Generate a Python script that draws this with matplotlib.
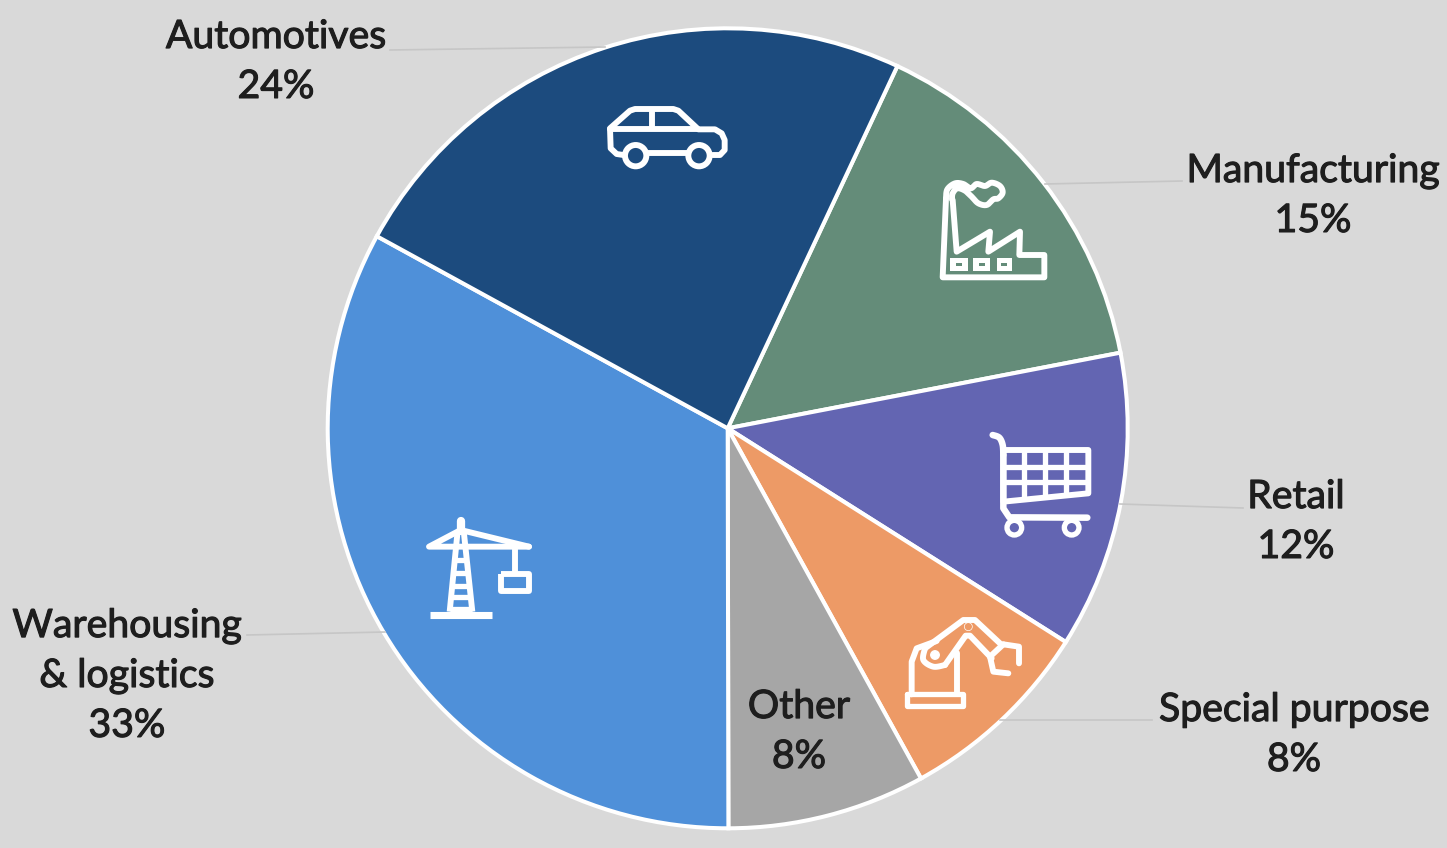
import numpy as np
import matplotlib
matplotlib.use("Agg")
import matplotlib.pyplot as plt
import matplotlib.patheffects as pe
from matplotlib.patches import Circle, Rectangle

categories = ["Manufacturing", "Retail", "Special purpose", "Other", "Warehousing\n& logistics", "Automotives"]
shares = [15, 12, 8, 8, 33, 24]
colors = ["#648c79", "#6365b2", "#ed9a66", "#a6a6a6", "#4f90d9", "#1c4b7e"]
label_pos = [(1313, 196), (1296, 522), (1294, 735), (799, 732), (127, 676), (276, 62)]
leaders = [((1045, 184), (1182, 181)), ((1120, 504), (1243, 508)), ((1000, 720), (1152, 720)),
           None, ((247, 635), (385, 632)), ((390, 50), (605, 47))]

W, H = 1447, 848
BG = "#d9d9d9"
fig = plt.figure(figsize=(W / 100, H / 100), dpi=100, facecolor=BG)
ax = fig.add_axes([0, 0, 1, 1])
ax.set_facecolor(BG)

def P(x, y):
    return (x, H - y)

ax.pie(shares, colors=colors, startangle=64.9, counterclock=False, center=P(727.7, 428.3), radius=400,
       wedgeprops=dict(edgecolor="white", linewidth=2.9, joinstyle="miter"))
ax.set_xlim(0, W)
ax.set_ylim(0, H)
ax.set_aspect("auto")
ax.axis("off")

for cat, share, pos, ld in zip(categories, shares, label_pos, leaders):
    ax.text(*P(*pos), f"{cat}\n{share}%", ha="center", va="center", fontsize=28.2, family="Lato",
            color="#1e1e1e", linespacing=1.48, zorder=6,
            path_effects=[pe.withStroke(linewidth=0.8, foreground="#1e1e1e")])
    if ld:
        ax.plot(*zip(P(*ld[0]), P(*ld[1])), color="#c6c6c6", lw=1.2, zorder=5)

# ---- icons (decoration only), coordinates from zoom crops
def Z(o, pts):
    return [P(o[0] + a / 3, o[1] + b / 3) for a, b in pts]

def smooth(pts, n=12):
    p = np.array([pts[0]] + list(pts) + [pts[-1]], float)
    out = []
    for i in range(1, len(p) - 2):
        for t in np.linspace(0, 1, n, endpoint=False):
            a, b, c, d = p[i - 1], p[i], p[i + 1], p[i + 2]
            out.append(0.5 * (2 * b + (c - a) * t + (2 * a - 5 * b + 4 * c - d) * t ** 2 + (3 * b - a - 3 * c + d) * t ** 3))
    out.append(p[-2])
    return [tuple(q) for q in out]

K = 0.85

def line(o, pts, lw=5, closed=False, cap="round", curved=False):
    pts = Z(o, pts)
    if curved:
        pts = smooth(pts)
    if closed:
        pts = pts + [pts[0]]
    x, y = zip(*pts)
    ax.plot(x, y, color="white", lw=lw * K, solid_capstyle=cap, solid_joinstyle="round", zorder=7)

def circ(o, c, r, lw=5, fill=False):
    xy = Z(o, [c])[0]
    ax.add_patch(Circle(xy, r / 3, fc="white" if fill else "none", ec="white", lw=lw * K, zorder=7))

def solid_rect(o, x0, y0, x1, y1, color="white"):
    a = Z(o, [(x0, y1)])[0]
    ax.add_patch(Rectangle(a, (x1 - x0) / 3, (y1 - y0) / 3, fc=color, ec="none", zorder=7))

# car
o = (590, 90)
line(o, [(100, 195), (80, 192), (62, 175), (60, 115), (120, 62), (135, 57), (250, 57), (265, 62), (325, 118), (375, 118), (395, 130), (404, 150), (404, 180), (390, 195), (368, 195)], lw=5)
line(o, [(175, 190), (293, 190)])
line(o, [(60, 118), (325, 118)])
line(o, [(187, 60), (187, 115)])
circ(o, (137, 197), 32)
circ(o, (327, 197), 32)

# factory
o = (930, 170)
line(o, [(48, 85), (38, 322), (343, 322), (343, 255), (268, 255), (270, 185), (175, 245), (180, 185), (80, 245), (68, 90)], lw=5)
line(o, [(48, 85), (52, 58), (75, 40), (100, 42), (122, 55), (140, 42), (165, 48), (185, 38), (210, 48), (218, 68), (205, 85), (190, 88), (170, 105), (145, 100), (125, 80), (105, 62), (82, 55), (68, 70), (66, 88)], lw=5, curved=True)
for a, b in [(60, 115), (130, 180), (200, 245)]:
    solid_rect(o, a, 265, b, 302)
    solid_rect(o, (a + b) / 2 - 9, 280, (a + b) / 2 + 9, 288, colors[0])

# cart
o = (980, 425)
line(o, [(38, 30), (58, 38), (68, 60), (70, 90)], lw=5.5, curved=True)
line(o, [(70, 90), (70, 250), (88, 277), (322, 278)], lw=5.5)
line(o, [(70, 75), (325, 75), (325, 205), (70, 230)], lw=5, closed=True, cap="butt")
for x, yb in [(132, 225), (195, 218), (258, 212)]:
    line(o, [(x, 75), (x, yb)], lw=4.5, cap="butt")
for y in [125, 172]:
    line(o, [(70, y), (325, y)], lw=4.5, cap="butt")
circ(o, (103, 308), 22, lw=4.5)
circ(o, (275, 308), 22, lw=4.5)

# robot
o = (895, 605)
line(o, [(35, 268), (205, 268), (205, 302), (35, 302)], lw=4.5, closed=True)
line(o, [(50, 268), (50, 170), (65, 130), (125, 108)], lw=5)
line(o, [(185, 268), (185, 145)], lw=5)
line(o, [(90, 130), (205, 45), (240, 45), (318, 118)], lw=5)
line(o, [(150, 180), (212, 92), (225, 92), (290, 160)], lw=5)
line(o, [(90, 130), (85, 165), (115, 185), (150, 180)], lw=5, curved=True)
circ(o, (120, 150), 13, lw=1, fill=True)
circ(o, (220, 65), 12, lw=0.6)
line(o, [(325, 118), (285, 155)], lw=5)
line(o, [(325, 118), (372, 125), (372, 175)], lw=5)
line(o, [(285, 155), (295, 200), (340, 205)], lw=5)

# crane
o = (415, 510)
line(o, [(137, 32), (137, 62)], lw=7)
line(o, [(128, 62), (104, 305)], lw=5, cap="butt")
line(o, [(146, 62), (172, 305)], lw=5, cap="butt")
line(o, [(45, 316), (232, 316)], lw=6, cap="butt")
line(o, [(137, 60), (42, 110), (342, 110)], lw=5)
line(o, [(137, 60), (342, 110)], lw=5)
for y, dx in [(150, 18), (190, 22), (227, 26), (262, 30), (296, 33)]:
    line(o, [(138 - dx, y), (138 + dx, y)], lw=4.5, cap="butt")
line(o, [(300, 110), (300, 190)], lw=5, cap="butt")
line(o, [(259, 192), (341, 192), (341, 242), (259, 242)], lw=5, closed=True, cap="butt")

fig.savefig("out.png", dpi=100, facecolor=BG)
